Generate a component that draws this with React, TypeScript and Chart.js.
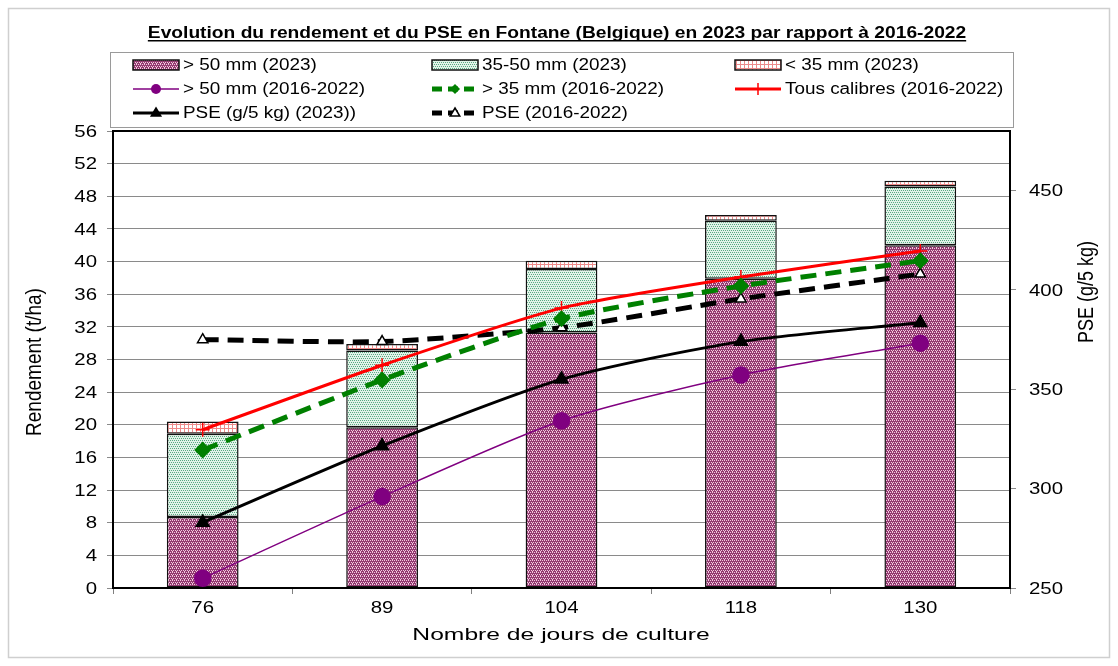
import React, { useEffect, useRef } from "react";
import { Chart, registerables } from "chart.js";
Chart.register(...registerables);

// ---------------- DATA ----------------
const categories = ["76", "89", "104", "118", "130"];
const over50_2023 = [8.7, 19.7, 31.3, 37.9, 42.0];
const from35to50_2023 = [10.2, 9.4, 7.8, 7.1, 7.2];
const under35_2023 = [1.5, 0.8, 1.0, 0.7, 0.7];
const over50_hist = [1.2, 11.2, 20.5, 26.1, 30.0];
const over35_hist = [16.9, 25.5, 33.0, 37.0, 40.1];
const allSizes_hist = [19.4, 27.3, 34.3, 38.1, 41.3];
const pse2023 = [283, 321.5, 355, 374, 383.5];
const pseHist = [375, 374, 381, 395.5, 408];
const leftTicks = [0, 4, 8, 12, 16, 20, 24, 28, 32, 36, 40, 44, 48, 52, 56];
const rightTicks = [250, 300, 350, 400, 450];

const labels = {
  title: "Evolution du rendement et du PSE en Fontane (Belgique) en 2023 par rapport à 2016-2022",
  yLeft: "Rendement (t/ha)",
  yRight: "PSE (g/5 kg)",
  x: "Nombre de jours de culture",
  s1: "> 50 mm (2023)",
  s2: "35-50 mm (2023)",
  s3: "< 35 mm (2023)",
  s4: "> 50 mm (2016-2022)",
  s5: "> 35 mm (2016-2022)",
  s6: "Tous calibres (2016-2022)",
  s7: "PSE (g/5 kg) (2023))",
  s8: "PSE (2016-2022)",
};

const FONT = "'Liberation Sans', Arial, sans-serif";
const STRETCH = 1.2;

function makePattern(bg: string, fg: string, pts: [number, number][], size = 4): CanvasPattern | string {
  const tile = document.createElement("canvas");
  tile.width = size;
  tile.height = size;
  const c = tile.getContext("2d");
  if (!c) return bg;
  c.fillStyle = bg;
  c.fillRect(0, 0, size, size);
  c.fillStyle = fg;
  pts.forEach(([x, y]) => c.fillRect(x, y, 1, 1));
  const ctx = document.createElement("canvas").getContext("2d");
  const p = ctx ? ctx.createPattern(tile, "repeat") : null;
  return p || bg;
}

function drawMarker(ctx: CanvasRenderingContext2D, style: string, x: number, y: number, r: number, fill: string, stroke: string) {
  ctx.save();
  ctx.setLineDash([]);
  ctx.beginPath();
  if (style === "circle") {
    ctx.arc(x, y, r, 0, Math.PI * 2);
    ctx.fillStyle = fill;
    ctx.fill();
  } else if (style === "rectRot") {
    ctx.moveTo(x, y - r);
    ctx.lineTo(x + r, y);
    ctx.lineTo(x, y + r);
    ctx.lineTo(x - r, y);
    ctx.closePath();
    ctx.fillStyle = fill;
    ctx.fill();
  } else if (style === "cross") {
    ctx.moveTo(x - r, y);
    ctx.lineTo(x + r, y);
    ctx.moveTo(x, y - r);
    ctx.lineTo(x, y + r);
    ctx.strokeStyle = stroke;
    ctx.lineWidth = 1.5;
    ctx.stroke();
  } else if (style === "triangle") {
    ctx.moveTo(x, y - r);
    ctx.lineTo(x + r * 0.95, y + r * 0.6);
    ctx.lineTo(x - r * 0.95, y + r * 0.6);
    ctx.closePath();
    ctx.fillStyle = fill;
    ctx.fill();
    ctx.strokeStyle = stroke;
    ctx.lineWidth = 1.5;
    ctx.stroke();
  }
  ctx.restore();
}

function stretchedText(ctx: CanvasRenderingContext2D, text: string, x: number, y: number, align: CanvasTextAlign, sx = STRETCH) {
  ctx.save();
  ctx.translate(x, y);
  ctx.scale(sx, 1);
  ctx.textAlign = align;
  ctx.fillText(text, 0, 0);
  ctx.restore();
}

export default function App() {
  const ref = useRef<HTMLCanvasElement | null>(null);

  useEffect(() => {
    if (!ref.current) return;
    const pMag = makePattern("#933a70", "#f2c8de", [[0, 0], [2, 0], [1, 2], [3, 2], [0, 3]]);
    const pGreen = makePattern("#e2f3e9", "#5aa882", [[0, 0], [2, 0], [1, 2], [3, 2]]);
    const pRed = makePattern("#ffffff", "#ee8a8a", [[0, 0], [1, 0], [2, 0], [3, 0], [0, 1], [0, 2], [0, 3]]);

    const legendItems = [
      { label: labels.s1, kind: "bar", fill: pMag },
      { label: labels.s2, kind: "bar", fill: pGreen },
      { label: labels.s3, kind: "bar", fill: pRed },
      { label: labels.s4, kind: "line", color: "#800080", width: 1.5, dash: [], marker: "circle", mfill: "#800080", r: 5 },
      { label: labels.s5, kind: "line", color: "#008000", width: 5, dash: [10, 6], marker: "rectRot", mfill: "#008000", r: 5 },
      { label: labels.s6, kind: "line", color: "#ff0000", width: 3, dash: [], marker: "cross", mfill: "#ff0000", r: 6 },
      { label: labels.s7, kind: "line", color: "#000000", width: 3, dash: [], marker: "triangle", mfill: "#000000", r: 5 },
      { label: labels.s8, kind: "line", color: "#000000", width: 5, dash: [10, 6], marker: "triangle", mfill: "#ffffff", r: 5 },
    ];

    const custom = {
      id: "custom",
      beforeDraw(chart: any) {
        const ctx = chart.ctx as CanvasRenderingContext2D;
        ctx.save();
        ctx.fillStyle = "#ffffff";
        ctx.fillRect(0, 0, chart.width, chart.height);
        ctx.strokeStyle = "#cfcfcf";
        ctx.lineWidth = 1.5;
        ctx.strokeRect(8.5, 8.5, 1101, 649);
        ctx.restore();
      },
      afterDraw(chart: any) {
        const ctx = chart.ctx as CanvasRenderingContext2D;
        const a = chart.chartArea;
        ctx.save();
        // plot frame
        ctx.strokeStyle = "#000";
        ctx.lineWidth = 2;
        ctx.strokeRect(a.left, a.top, a.right - a.left, a.bottom - a.top);

        // title
        ctx.fillStyle = "#000";
        ctx.font = `bold 16px ${FONT}`;
        ctx.textBaseline = "alphabetic";
        const tx = 557, ty = 38;
        stretchedText(ctx, labels.title, tx, ty, "center");
        const tw = ctx.measureText(labels.title).width * STRETCH;
        ctx.fillRect(tx - tw / 2, ty + 2, tw, 1.5);

        // legend box
        ctx.strokeStyle = "#9a9a9a";
        ctx.lineWidth = 1;
        ctx.strokeRect(110.5, 52.5, 903, 75);
        const colX = [133, 432, 735];
        const rowY = [65, 89, 113];
        ctx.font = `16px ${FONT}`;
        ctx.textBaseline = "middle";
        legendItems.forEach((it: any, i) => {
          const col = i % 3;
          const row = Math.floor(i / 3);
          const x = colX[col];
          const y = rowY[row];
          const w = 46;
          if (it.kind === "bar") {
            ctx.fillStyle = it.fill;
            ctx.fillRect(x, y - 5, w, 10);
            ctx.strokeStyle = "#111";
            ctx.lineWidth = 1.5;
            ctx.strokeRect(x, y - 5, w, 10);
          } else {
            ctx.save();
            ctx.strokeStyle = it.color;
            ctx.lineWidth = it.width;
            ctx.setLineDash(it.dash);
            ctx.beginPath();
            ctx.moveTo(x, y);
            ctx.lineTo(x + w, y);
            ctx.stroke();
            ctx.restore();
            drawMarker(ctx, it.marker, x + w / 2, y, it.r, it.mfill, it.color);
          }
          ctx.fillStyle = "#000";
          stretchedText(ctx, it.label, x + w + 4, y + 1, "left", 1.18);
        });

        // tick labels
        ctx.font = `17px ${FONT}`;
        ctx.fillStyle = "#000";
        ctx.textBaseline = "middle";
        const ys = chart.scales.y;
        leftTicks.forEach((v) => stretchedText(ctx, String(v), 97, ys.getPixelForValue(v) + 1, "right"));
        const ys1 = chart.scales.y1;
        rightTicks.forEach((v) => stretchedText(ctx, String(v), 1029, ys1.getPixelForValue(v) + 1, "left"));
        const xs = chart.scales.x;
        categories.forEach((c, i) => stretchedText(ctx, c, xs.getPixelForValue(i), 608, "center"));

        // axis titles
        ctx.fillStyle = "#000";
        ctx.textBaseline = "middle";
        ctx.font = `17px ${FONT}`;
        stretchedText(ctx, labels.x, 561, 635, "center", 1.45);
        ctx.font = `19px ${FONT}`;
        ctx.save();
        ctx.translate(35, 362);
        ctx.rotate(-Math.PI / 2);
        ctx.scale(1, 1.2);
        ctx.textAlign = "center";
        ctx.fillText(labels.yLeft, 0, 0);
        ctx.restore();
        ctx.font = `18px ${FONT}`;
        ctx.save();
        ctx.translate(1087, 292);
        ctx.rotate(-Math.PI / 2);
        ctx.scale(1, 1.2);
        ctx.textAlign = "center";
        ctx.fillText(labels.yRight, 0, 0);
        ctx.restore();
        ctx.restore();
      },
    };

    const chart = new Chart(ref.current, {
      type: "bar",
      data: {
        labels: categories,
        datasets: [
          {
            type: "line",
            label: labels.s4,
            data: over50_hist,
            yAxisID: "y",
            stack: "l1",
            order: 1,
            borderColor: "#800080",
            backgroundColor: "#800080",
            borderWidth: 1.5,
            pointStyle: "circle",
            pointRadius: 8,
            pointBackgroundColor: "#800080",
            pointBorderColor: "#800080",
            tension: 0.25,
          } as any,
          {
            type: "line",
            label: labels.s5,
            data: over35_hist,
            yAxisID: "y",
            stack: "l2",
            order: 1,
            borderColor: "#008000",
            backgroundColor: "#008000",
            borderWidth: 5,
            borderDash: [16, 9],
            pointStyle: "rectRot",
            pointRadius: 5,
            pointBackgroundColor: "#008000",
            pointBorderColor: "#008000",
            tension: 0.2,
          } as any,
          {
            type: "line",
            label: labels.s6,
            data: allSizes_hist,
            yAxisID: "y",
            stack: "l3",
            order: 1,
            borderColor: "#ff0000",
            backgroundColor: "#ff0000",
            borderWidth: 3,
            pointStyle: "cross",
            pointRadius: 7,
            pointBorderWidth: 1.5,
            pointBorderColor: "#ff0000",
            tension: 0.2,
          } as any,
          {
            type: "line",
            label: labels.s7,
            data: pse2023,
            yAxisID: "y1",
            stack: "l4",
            order: 1,
            borderColor: "#000000",
            backgroundColor: "#000000",
            borderWidth: 3,
            pointStyle: "triangle",
            pointRadius: 6,
            pointBackgroundColor: "#000000",
            pointBorderColor: "#000000",
            tension: 0.25,
          } as any,
          {
            type: "line",
            label: labels.s8,
            data: pseHist,
            yAxisID: "y1",
            stack: "l5",
            order: 1,
            borderColor: "#000000",
            backgroundColor: "#ffffff",
            borderWidth: 5,
            borderDash: [16, 9],
            pointStyle: "triangle",
            pointRadius: 6,
            pointBorderWidth: 1.5,
            pointBackgroundColor: "#ffffff",
            pointBorderColor: "#000000",
            tension: 0.2,
          } as any,
          {
            type: "bar",
            label: labels.s1,
            data: over50_2023,
            yAxisID: "y",
            stack: "bars",
            order: 10,
            backgroundColor: pMag as any,
            borderColor: "#111",
            borderWidth: 1.5,
            borderSkipped: false,
            barPercentage: 0.4,
            categoryPercentage: 1,
          } as any,
          {
            type: "bar",
            label: labels.s2,
            data: from35to50_2023,
            yAxisID: "y",
            stack: "bars",
            order: 10,
            backgroundColor: pGreen as any,
            borderColor: "#111",
            borderWidth: 1.5,
            borderSkipped: false,
            barPercentage: 0.4,
            categoryPercentage: 1,
          } as any,
          {
            type: "bar",
            label: labels.s3,
            data: under35_2023,
            yAxisID: "y",
            stack: "bars",
            order: 10,
            backgroundColor: pRed as any,
            borderColor: "#111",
            borderWidth: 1.5,
            borderSkipped: false,
            barPercentage: 0.4,
            categoryPercentage: 1,
          } as any,
        ],
      },
      options: {
        responsive: false,
        animation: false,
        devicePixelRatio: 1,
        layout: { padding: { top: 131, left: 0, right: 0, bottom: 0 } },
        plugins: {
          legend: { display: false },
          title: { display: false },
          tooltip: { enabled: false },
        },
        scales: {
          x: {
            stacked: true,
            offset: true,
            grid: { offset: true, drawOnChartArea: false, drawTicks: true, tickLength: 6, color: "#808080" },
            border: { display: true, color: "#000", width: 2 },
            ticks: { display: false },
            afterFit: (s: any) => {
              s.height = 78;
            },
          },
          y: {
            stacked: true,
            min: 0,
            max: 56,
            afterBuildTicks: (s: any) => {
              s.ticks = leftTicks.map((v) => ({ value: v }));
            },
            grid: { color: "#8a8a8a", tickLength: 6, lineWidth: 1 },
            border: { display: true, color: "#000", width: 2 },
            ticks: { display: false },
            afterFit: (s: any) => {
              s.width = 113;
            },
          },
          y1: {
            position: "right",
            min: 250,
            max: 480,
            afterBuildTicks: (s: any) => {
              s.ticks = rightTicks.map((v) => ({ value: v }));
            },
            grid: { drawOnChartArea: false, tickLength: 6, color: "#8a8a8a" },
            border: { display: true, color: "#000", width: 2 },
            ticks: { display: false },
            afterFit: (s: any) => {
              s.width = 108;
            },
          },
        },
      } as any,
      plugins: [custom],
    });

    return () => {
      chart.destroy();
    };
  }, []);

  return (
    <div style={{ position: "absolute", left: 0, top: 0, width: 1118, height: 666, background: "#fff" }}>
      <canvas ref={ref} width={1118} height={666} style={{ width: 1118, height: 666, display: "block" }} />
    </div>
  );
}
